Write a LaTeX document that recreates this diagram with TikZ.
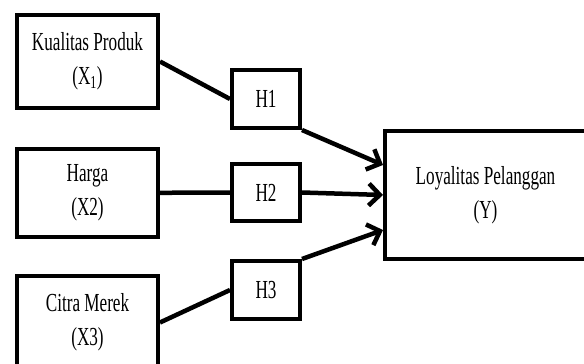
\documentclass[tikz,border=0pt]{standalone}
\usepackage{fontspec}
\setmainfont[FakeStretch=0.66]{Liberation Serif}
\usetikzlibrary{arrows.meta}
\begin{document}
\begin{tikzpicture}[x=1pt,y=-1pt,
  box/.style={draw,line width=4pt,align=center,inner sep=0pt,font=\fontsize{26}{34}\selectfont},
  link/.style={line width=4.5pt},
  arr/.style={line width=4.5pt,-{Straight Barb[length=11pt,width=22pt]}}]
\useasboundingbox (0,0) rectangle (584,364);
\clip (0,0) rectangle (584,364);
\node[box,minimum width=141pt,minimum height=93pt] (x1) at (87.5,61.5) {Kualitas Produk\\(X\textsubscript{1})};
\node[box,minimum width=141pt,minimum height=88pt] (x2) at (87.5,192.8) {Harga\\(X2)};
\node[box,minimum width=141pt,minimum height=93pt] (x3) at (87.5,322.5) {Citra Merek\\(X3)};
\node[box,minimum width=68pt,minimum height=58pt] (h1) at (266,99) {H1};
\node[box,minimum width=68pt,minimum height=57pt] (h2) at (266,192.5) {H2};
\node[box,minimum width=68pt,minimum height=58pt] (h3) at (266,290) {H3};
\node[box,minimum width=201pt,minimum height=128pt] (y) at (485.5,195) {Loyalitas Pelanggan\\(Y)};
\draw[link] (x1.east) -- (h1.west);
\draw[link] (x2.east) -- (h2.west);
\draw[link] (x3.east) -- (h3.west);
\draw[arr] (h1.south east) -- ([yshift=30pt]y.west);
\draw[arr] (h2.east) -- (y.west);
\draw[arr] (h3.north east) -- ([yshift=-35pt]y.west);
\end{tikzpicture}
\end{document}
